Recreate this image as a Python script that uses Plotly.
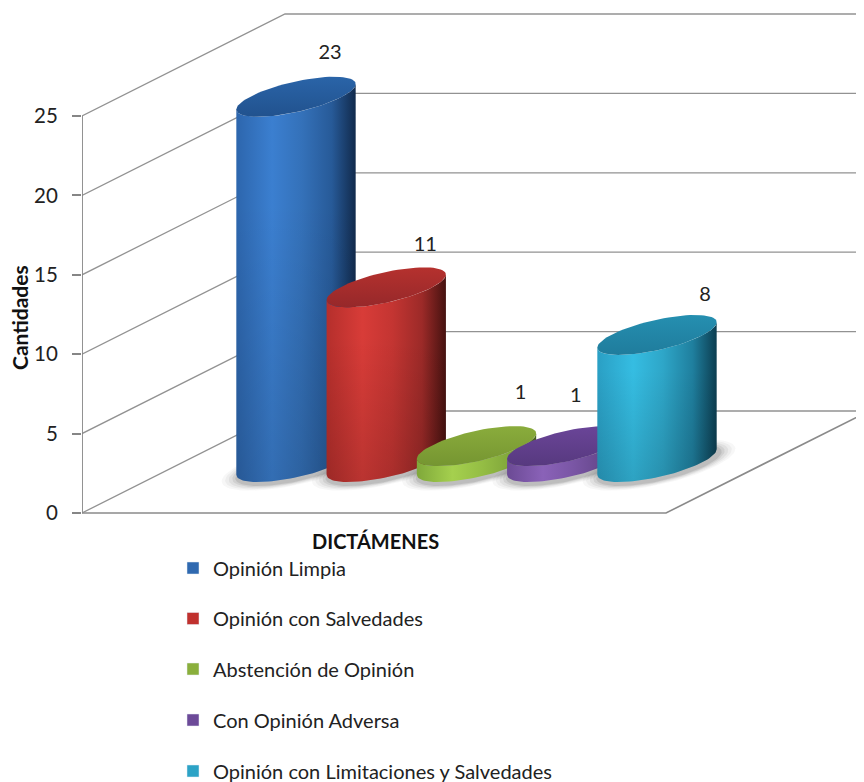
import numpy as np
import plotly.graph_objects as go

# --- data ---
categories = ["Opinión Limpia", "Opinión con Salvedades", "Abstención de Opinión",
              "Con Opinión Adversa", "Opinión con Limitaciones y Salvedades"]
values = [23, 11, 1, 1, 8]
y_ticks = [0, 5, 10, 15, 20, 25]
y_title = "Cantidades"
x_title = "DICTÁMENES"

# --- styling / oblique projection ---
side_scales = [
    ["#2d66ad", "#3b7fd0", "#3471b9", "#275a98", "#112a4c"],
    ["#b52f2c", "#d83c38", "#c43532", "#9c2a28", "#461210"],
    ["#7fa83a", "#a5d04e", "#94bd44", "#7fa53a", "#46601c"],
    ["#6b4a94", "#8a62b8", "#7a56a5", "#66478c", "#38234f"],
    ["#2a9fc4", "#35bde2", "#2ea6c8", "#1f7f9e", "#0c3d50"],
]
top_colors = [("#2a64a8", "#21528e"), ("#b5312e", "#96282a"), ("#8aac3c", "#759531"),
              ("#6a4598", "#57397f"), ("#258fb0", "#1f7c9c")]
key_colors = ["#2f69b0", "#c0312e", "#8aaf3c", "#6c4a98", "#2ca3c6"]
label_dx = [34, 39, 44, 9, 48]
label_dy = [2.68, 2.63, 3.3, 3.08, 2.48]
legend_rows = [568, 618.5, 669, 720, 771]

PAGE = 8                # the page's own body margin
EXTRA = 10              # room under the window for the last legend row's box
PX = 15.88              # pixels per unit of the value axis
LEFT, RIGHT = 82, 864
W, H = 864 - PAGE, 782 - PAGE + EXTRA
DEPTH_X, DEPTH_Y = 203, 102 / PX
FLOOR_R = 666
BAR_X0, BAR_STEP = 296, 90.25
BASE_Y = 51 / PX
R, P, Q = 46, 38, 20 / PX
GRID = "#929292"

fig = go.Figure()


def line(xs, ys, w=1.3, c=GRID):
    fig.add_trace(go.Scatter(x=xs, y=ys, mode="lines", line=dict(color=c, width=w),
                             showlegend=False, hoverinfo="skip"))


def scale(colors):
    stops = [0, 0.3, 0.55, 0.8, 1]
    return [[s, c] for s, c in zip(stops, colors)]


def ellipse(cx, cy, k=1.0, n=80):
    t = np.linspace(0, 2 * np.pi, n)
    return (cx + k * (R * np.cos(t) + P * np.sin(t)), cy + k * Q * np.sin(t))


# walls and floor
for v in y_ticks:
    line([LEFT, LEFT + DEPTH_X, RIGHT], [v, v + DEPTH_Y, v + DEPTH_Y])
line([LEFT, LEFT], [0, max(y_ticks)], 1.8, "#868686")
line([LEFT, FLOOR_R, RIGHT], [0, 0, DEPTH_Y * (RIGHT - FLOOR_R) / DEPTH_X], 1.6, "#8a8a8a")

# cylinders
ta = np.arctan2(P, R)
arc = np.linspace(ta - np.pi, ta, 50)
for i, v in enumerate(values):
    cx = BAR_X0 + i * BAR_STEP
    # soft floor shadow
    for k, a in [(1.28, 0.04), (1.22, 0.05), (1.16, 0.07), (1.10, 0.09), (1.05, 0.12)]:
        sx, sy = ellipse(cx + 2, BASE_Y - 3 / PX, k)
        fig.add_trace(go.Scatter(x=sx, y=sy, mode="lines", fill="toself", line=dict(width=0),
                                 fillcolor=f"rgba(60,60,60,{a})", showlegend=False, hoverinfo="skip"))
    xa = cx + R * np.cos(arc) + P * np.sin(arc)
    ya = Q * np.sin(arc)
    xs = np.concatenate([xa, xa[::-1]])
    ys = np.concatenate([BASE_Y + ya, (BASE_Y + v + ya)[::-1]])
    fig.add_trace(go.Scatter(x=xs, y=ys, mode="lines", fill="toself", line=dict(width=0),
                             fillgradient=dict(type="horizontal", colorscale=scale(side_scales[i])),
                             showlegend=False, hoverinfo="skip"))
    if v > 1:  # tall sides fade darker toward the floor
        fig.add_trace(go.Scatter(x=xs, y=ys, mode="lines", fill="toself", line=dict(width=0),
                                 fillgradient=dict(type="vertical",
                                                   colorscale=[[0, "rgba(0,0,0,0.14)"], [0.7, "rgba(0,0,0,0)"],
                                                               [1, "rgba(0,0,0,0)"]]),
                                 showlegend=False, hoverinfo="skip"))
    ex, ey = ellipse(cx, BASE_Y + v)
    fig.add_trace(go.Scatter(x=ex, y=ey, mode="lines", fill="toself", line=dict(width=0),
                             fillgradient=dict(type="vertical",
                                               colorscale=[[0, top_colors[i][1]], [1, top_colors[i][0]]]),
                             showlegend=False, hoverinfo="skip"))

# data labels
fig.add_trace(go.Scatter(
    x=[BAR_X0 + i * BAR_STEP + d for i, d in enumerate(label_dx)],
    y=[BASE_Y + v + d for v, d in zip(values, label_dy)],
    text=[str(v) for v in values], mode="text", textposition="middle center",
    textfont=dict(family="Lato", size=20, color="#222222"), showlegend=False, hoverinfo="skip"))

# legend keys: one legend per row so the rows can sit as far apart as in the original
legends = {}
for i, name in enumerate(categories):
    key = "legend" if i == 0 else f"legend{i + 1}"
    fig.add_trace(go.Bar(x=[None], y=[None], name=name, marker_color=key_colors[i],
                         legend=key, showlegend=True, hoverinfo="skip"))
    legends[key] = dict(x=(173 - LEFT) / (RIGHT - LEFT),
                        y=(782 + EXTRA - legend_rows[i]) / H,
                        xanchor="left", yanchor="middle",
                        font=dict(family="Lato", size=20, color="#222222"),
                        bgcolor="rgba(0,0,0,0)")

fig.add_annotation(text=f"<b>{x_title}</b>", x=(375 - LEFT) / (RIGHT - LEFT), y=(782 + EXTRA - 541) / H,
                   xref="paper", yref="paper", showarrow=False, xanchor="center", yanchor="middle",
                   font=dict(family="Lato", size=20, color="#111111"))
fig.add_annotation(text=f"<b>{y_title}</b>", x=(19 - LEFT) / (RIGHT - LEFT), y=(782 + EXTRA - 318) / H,
                   xref="paper", yref="paper", showarrow=False, textangle=-90, xanchor="center", yanchor="middle",
                   font=dict(family="Lato", size=21, color="#111111"))

fig.update_layout(
    width=W, height=H, margin=dict(l=LEFT - PAGE, r=0, t=0, b=0),
    paper_bgcolor="white", plot_bgcolor="white", font=dict(family="Lato", color="#222222"),
    xaxis=dict(range=[LEFT, RIGHT], visible=False, fixedrange=True),
    yaxis=dict(range=[-(269 + EXTRA) / PX, (513 - PAGE) / PX], tickvals=y_ticks, ticktext=[str(t) for t in y_ticks],
               showgrid=False, zeroline=False, showline=False, ticks="outside", ticklen=9,
               tickcolor="#868686", tickwidth=1.5, tickfont=dict(family="Lato", size=20.5, color="#222222"),
               ticklabelstandoff=10, fixedrange=True),
    showlegend=True, bargap=0,
    **legends,
)
fig.write_html("out.html", post_script="document.documentElement.style.overflow='hidden';")
